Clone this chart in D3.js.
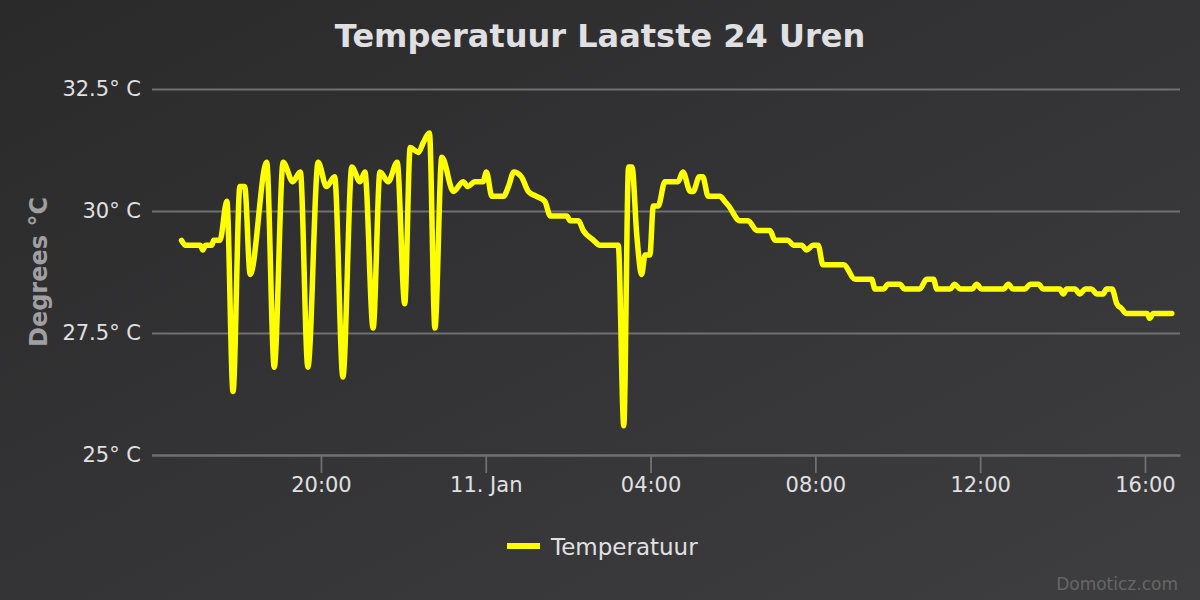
<!DOCTYPE html>
<html>
<head>
<meta charset="utf-8">
<script src="https://cdn.jsdelivr.net/npm/d3@7"></script>
<style>
body { margin: 0; overflow: hidden; background: #2a2a2b; }
svg { display: block; font-family: 'DejaVu Sans', sans-serif; }
</style>
</head>
<body>
<svg id="chart" width="1200" height="600"></svg>
<script>
// readings (day hour:minute)
var times = [
	'10 16:37','10 16:43','10 17:04','10 17:08','10 17:12','10 17:21','10 17:24','10 17:33',
	'10 17:43','10 17:52','10 18:02','10 18:09','10 18:17','10 18:41','10 18:52','10 19:05',
	'10 19:19','10 19:30','10 19:41','10 19:56','10 20:08','10 20:20','10 20:32','10 20:45',
	'10 20:57','10 21:04','10 21:16','10 21:26','10 21:38','10 21:51','10 22:02','10 22:10',
	'10 22:22','10 22:29','10 22:38','10 22:46','10 22:56','10 23:13','10 23:27','10 23:34',
	'10 23:44','10 23:56','11 00:01','11 00:09','11 00:26','11 00:33','11 00:41','11 00:52',
	'11 01:02','11 01:14','11 01:26','11 01:34','11 01:58','11 02:03','11 02:15','11 02:22',
	'11 02:37','11 02:46','11 03:13','11 03:21','11 03:28','11 03:33','11 03:40','11 03:47',
	'11 03:52','11 03:59','11 04:04','11 04:11','11 04:21','11 04:40','11 04:47','11 04:58',
	'11 05:02','11 05:11','11 05:16','11 05:24','11 05:41','11 05:48','11 05:54','11 06:10',
	'11 06:22','11 06:35','11 06:54','11 07:01','11 07:20','11 07:28','11 07:40','11 07:47',
	'11 07:57','11 08:04','11 08:11','11 08:41','11 08:58','11 09:22','11 09:27','11 09:39',
	'11 09:46','11 10:03','11 10:10','11 10:32','11 10:42','11 10:52','11 10:57','11 11:16',
	'11 11:23','11 11:31','11 11:48','11 11:55','11 12:02','11 12:34','11 12:41','11 12:48',
	'11 13:05','11 13:13','11 13:25','11 13:32','11 13:56','11 14:01','11 14:06','11 14:18',
	'11 14:25','11 14:33','11 14:42','11 14:50','11 14:59','11 15:04','11 15:12','11 15:19',
	'11 15:26','11 15:33','11 16:03','11 16:07','11 16:12','11 16:39'
];
var temps = [
	29.4, 29.3, 29.3, 29.2, 29.3, 29.3, 29.4, 29.4,
	30.2, 26.3, 30.5, 30.5, 28.7, 31.0, 26.8, 31.0,
	30.6, 30.8, 26.8, 31.0, 30.5, 30.7, 26.6, 30.9,
	30.6, 30.8, 27.6, 30.8, 30.6, 31.0, 28.1, 31.3,
	31.2, 31.4, 31.6, 27.6, 31.1, 30.4, 30.6, 30.5,
	30.6, 30.6, 30.8, 30.3, 30.3, 30.5, 30.8, 30.7,
	30.4, 30.3, 30.2, 29.9, 29.9, 29.8, 29.8, 29.6,
	29.4, 29.3, 29.3, 25.6, 30.9, 30.9, 29.5, 28.7,
	29.1, 29.1, 30.1, 30.1, 30.6, 30.6, 30.8, 30.4,
	30.4, 30.7, 30.7, 30.3, 30.3, 30.2, 30.1, 29.8,
	29.8, 29.6, 29.6, 29.4, 29.4, 29.3, 29.3, 29.2,
	29.3, 29.3, 28.9, 28.9, 28.6, 28.6, 28.4, 28.4,
	28.5, 28.5, 28.4, 28.4, 28.6, 28.6, 28.4, 28.4,
	28.5, 28.4, 28.4, 28.5, 28.4, 28.4, 28.5, 28.4,
	28.4, 28.5, 28.5, 28.4, 28.4, 28.3, 28.4, 28.4,
	28.3, 28.4, 28.4, 28.3, 28.3, 28.4, 28.4, 28.1,
	28.0, 27.9, 27.9, 27.8, 27.9, 27.9
];
var xRange = ['10 15:54', '11 16:51'];
var xTicks = ['10 20:00', '11 00:00', '11 04:00', '11 08:00', '11 12:00', '11 16:00'];
var xTickLabels = ['20:00', '11. Jan', '04:00', '08:00', '12:00', '16:00'];
var yTicks = [25, 27.5, 30, 32.5];
var seriesName = 'Temperatuur';

var parseTime = d3.timeParse('%d %H:%M');

var svg = d3.select('#chart');
var plotLeft = 152, plotRight = 1180, plotTop = 89, plotBottom = 455;

// dark background gradient
var grad = svg.append('defs').append('linearGradient').attr('id', 'bg')
	.attr('x1', 0).attr('y1', 0).attr('x2', 1).attr('y2', 1);
grad.append('stop').attr('offset', '0%').attr('stop-color', '#2a2a2b');
grad.append('stop').attr('offset', '100%').attr('stop-color', '#3e3e40');
svg.append('rect').attr('width', 1200).attr('height', 600).attr('fill', 'url(#bg)');

var x = d3.scaleTime().domain(xRange.map(parseTime)).range([plotLeft, plotRight]);
var y = d3.scaleLinear().domain([25, 32.5]).range([plotBottom, plotTop]);

// y axis with grid lines
var yAxis = svg.append('g').attr('transform', 'translate(' + plotLeft + ',0)')
	.call(d3.axisLeft(y).tickValues(yTicks).tickSize(-(plotRight - plotLeft)).tickPadding(11)
		.tickFormat(d => d + '° C'));
yAxis.select('.domain').remove();
yAxis.selectAll('line').attr('stroke', '#707073').attr('stroke-width', 1.8);
yAxis.selectAll('text').attr('fill', '#e0e0e3').attr('font-size', 21)
	.attr('font-family', 'DejaVu Sans');

// x axis
var xAxis = svg.append('g').attr('transform', 'translate(0,' + plotBottom + ')')
	.call(d3.axisBottom(x).tickValues(xTicks.map(parseTime)).tickSizeInner(18).tickSizeOuter(0)
		.tickPadding(4).tickFormat((d, i) => xTickLabels[i]));
xAxis.select('.domain').attr('stroke', '#707073').attr('stroke-width', 1.8);
xAxis.selectAll('line').attr('stroke', '#707073').attr('stroke-width', 1.8);
xAxis.selectAll('text').attr('fill', '#e0e0e3').attr('font-size', 21)
	.attr('font-family', 'DejaVu Sans');

// series
var data = times.map((t, i) => ({ t: parseTime(t), v: temps[i] }));
var line = d3.line().x(d => x(d.t)).y(d => y(d.v)).curve(d3.curveMonotoneX);
svg.append('path').datum(data).attr('d', line)
	.attr('fill', 'none').attr('stroke', '#ffff00').attr('stroke-width', 5.5)
	.attr('stroke-linejoin', 'round').attr('stroke-linecap', 'round');

// titles
svg.append('text').attr('x', 600).attr('y', 47).attr('text-anchor', 'middle')
	.attr('font-size', 32).attr('font-weight', 'bold').attr('fill', '#e0e0e3')
	.text('Temperatuur Laatste 24 Uren');
svg.append('text').attr('transform', 'translate(39,' + ((plotTop + plotBottom) / 2) + ') rotate(-90)')
	.attr('text-anchor', 'middle').attr('dominant-baseline', 'central')
	.attr('font-size', 24).attr('font-weight', 'bold').attr('fill', '#a0a0a3')
	.text('Degrees °C');

// legend
var legend = svg.append('g').attr('transform', 'translate(507,546)');
legend.append('line').attr('x1', 0).attr('x2', 33).attr('stroke', '#ffff00').attr('stroke-width', 6);
legend.append('text').attr('x', 44).attr('y', 9).attr('font-size', 23).attr('fill', '#e0e0e3')
	.text(seriesName);

// credits
svg.append('text').attr('x', 1178).attr('y', 590).attr('text-anchor', 'end')
	.attr('font-size', 17).attr('fill', '#666666').text('Domoticz.com');
</script>
</body>
</html>
